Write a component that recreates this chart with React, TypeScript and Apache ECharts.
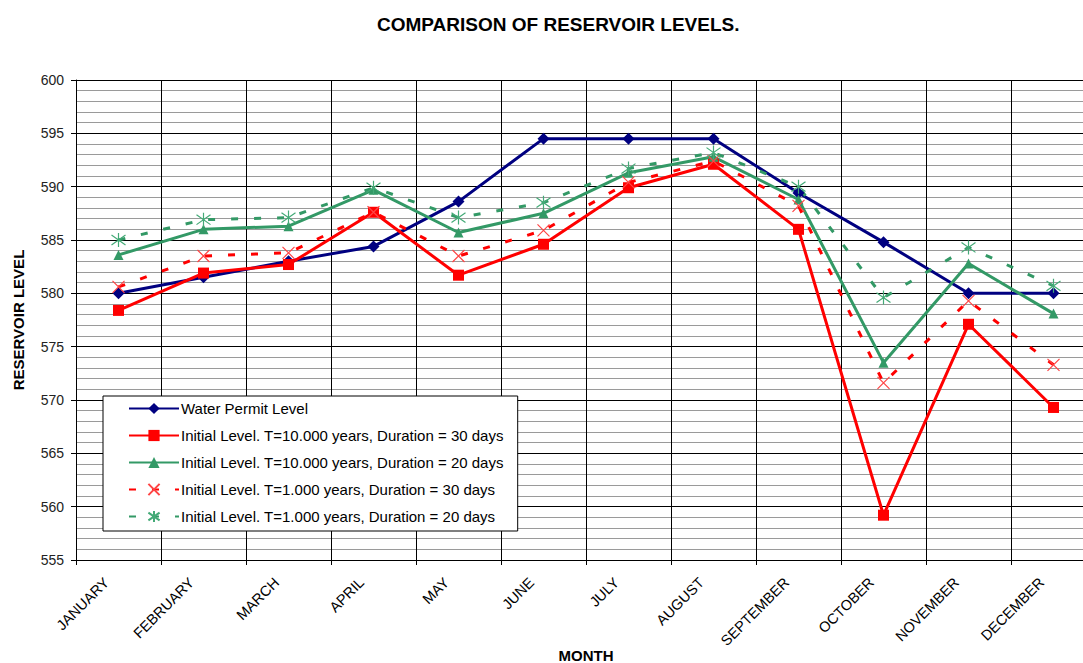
import React, { useEffect, useRef } from "react";
import * as echarts from "echarts";

const months = [
  "JANUARY", "FEBRUARY", "MARCH", "APRIL", "MAY", "JUNE",
  "JULY", "AUGUST", "SEPTEMBER", "OCTOBER", "NOVEMBER", "DECEMBER",
];
const waterPermit = [580, 581.5, 583, 584.4, 588.6, 594.5, 594.5, 594.5, 589.4, 584.8, 580, 580];
const t10000d30 = [578.4, 581.9, 582.7, 587.6, 581.7, 584.6, 589.9, 592.1, 586.0, 559.2, 577.1, 569.3];
const t10000d20 = [583.6, 586.0, 586.3, 589.7, 585.7, 587.5, 591.3, 592.8, 588.8, 573.5, 582.8, 578.1];
const t1000d30 = [580.6, 583.5, 583.8, 587.6, 583.5, 585.9, 590.4, 592.4, 588.2, 571.6, 579.3, 573.3];
const t1000d20 = [585.0, 586.9, 587.1, 589.9, 587.1, 588.5, 591.7, 593.2, 590.0, 579.6, 584.3, 580.7];

const seriesNames = [
  "Water Permit Level",
  "Initial Level. T=10.000 years, Duration = 30 days",
  "Initial Level. T=10.000 years, Duration = 20 days",
  "Initial Level. T=1.000 years, Duration = 30 days",
  "Initial Level. T=1.000 years, Duration = 20 days",
];

const FONT = "'Liberation Sans', Arial, sans-serif";
const NAVY = "#000080";
const RED = "#ff0000";
const GREEN = "#339966";

const X_SYMBOL = "path://M0,0 L10,10 M10,0 L0,10";
const STAR_SYMBOL = "path://M5,0 L5,10 M0,1.5 L10,8.5 M10,1.5 L0,8.5";

export default function App() {
  const ref = useRef<HTMLDivElement>(null);
  useEffect(() => {
    if (!ref.current) return;
    const chart = echarts.init(ref.current, undefined, { renderer: "svg" });
    chart.setOption({
      animation: false,
      backgroundColor: "#ffffff",
      textStyle: { fontFamily: FONT },
      title: {
        text: "COMPARISON OF RESERVOIR LEVELS.",
        left: 372,
        top: 10,
        textStyle: { fontFamily: FONT, fontSize: 19, fontWeight: "bold", color: "#000" },
      },
      legend: {
        orient: "vertical",
        left: 103,
        top: 396,
        padding: [5, 14, 7, 25],
        itemGap: 12,
        itemWidth: 50,
        itemHeight: 14,
        borderColor: "#000",
        borderWidth: 1,
        backgroundColor: "#ffffff",
        textStyle: { fontFamily: FONT, fontSize: 15, color: "#000", padding: [0, 0, 0, -3] },
        data: seriesNames,
      },
      grid: {
        left: 76,
        top: 80,
        bottom: 103,
        right: -13,
        containLabel: false,
        outerBoundsMode: "none",
      },
      xAxis: {
        type: "category",
        data: months,
        boundaryGap: true,
        name: "MONTH",
        nameLocation: "middle",
        nameGap: 88,
        nameMoveOverlap: false,
        nameTextStyle: {
          fontFamily: FONT,
          fontSize: 15,
          fontWeight: "bold",
          color: "#000",
          verticalAlign: "top",
        },
        axisLine: { lineStyle: { color: "#000", width: 1 } },
        axisTick: { show: true, length: 5, lineStyle: { color: "#000" } },
        axisLabel: {
          rotate: 45,
          fontSize: 14.5,
          color: "#000",
          margin: 8,
          padding: [0, 17, 0, 0],
          fontFamily: FONT,
        },
        splitLine: { show: true, lineStyle: { color: "#000", width: 1 } },
      },
      yAxis: {
        type: "value",
        min: 555,
        max: 600,
        interval: 5,
        name: "RESERVOIR LEVEL",
        nameLocation: "middle",
        nameGap: 50,
        nameMoveOverlap: false,
        nameTextStyle: { fontFamily: FONT, fontSize: 15, fontWeight: "bold", color: "#000" },
        axisLine: { show: true, lineStyle: { color: "#000", width: 1 } },
        axisTick: { show: true, length: 5, lineStyle: { color: "#000" } },
        axisLabel: { fontSize: 14, color: "#222", margin: 12, fontFamily: FONT },
        splitLine: { show: true, lineStyle: { color: "#000", width: 1 } },
        minorTick: { show: false, splitNumber: 5 },
        minorSplitLine: { show: true, lineStyle: { color: "#9a9a9a", width: 1 } },
      },
      series: [
        {
          name: seriesNames[0],
          type: "line",
          data: waterPermit,
          symbol: "diamond",
          symbolSize: 12,
          lineStyle: { color: NAVY, width: 3 },
          itemStyle: { color: NAVY },
        },
        {
          name: seriesNames[1],
          type: "line",
          data: t10000d30,
          symbol: "rect",
          symbolSize: 11,
          lineStyle: { color: RED, width: 3 },
          itemStyle: { color: RED },
        },
        {
          name: seriesNames[2],
          type: "line",
          data: t10000d20,
          symbol: "triangle",
          symbolSize: 10,
          lineStyle: { color: GREEN, width: 3 },
          itemStyle: { color: GREEN },
        },
        {
          name: seriesNames[3],
          type: "line",
          data: t1000d30,
          symbol: X_SYMBOL,
          symbolSize: 12,
          lineStyle: { color: RED, width: 3, type: [7, 16] },
          itemStyle: { color: "#ff4444", borderColor: "#ff4444", borderWidth: 1.2 },
        },
        {
          name: seriesNames[4],
          type: "line",
          data: t1000d20,
          symbol: STAR_SYMBOL,
          symbolSize: 14,
          lineStyle: { color: GREEN, width: 3, type: [7, 16] },
          itemStyle: { color: "#44aa77", borderColor: "#44aa77", borderWidth: 1.2 },
        },
      ],
    });
    return () => chart.dispose();
  }, []);
  return (
    <div
      ref={ref}
      style={{ position: "fixed", left: 0, top: 0, width: 1083, height: 663, background: "#fff" }}
    />
  );
}
